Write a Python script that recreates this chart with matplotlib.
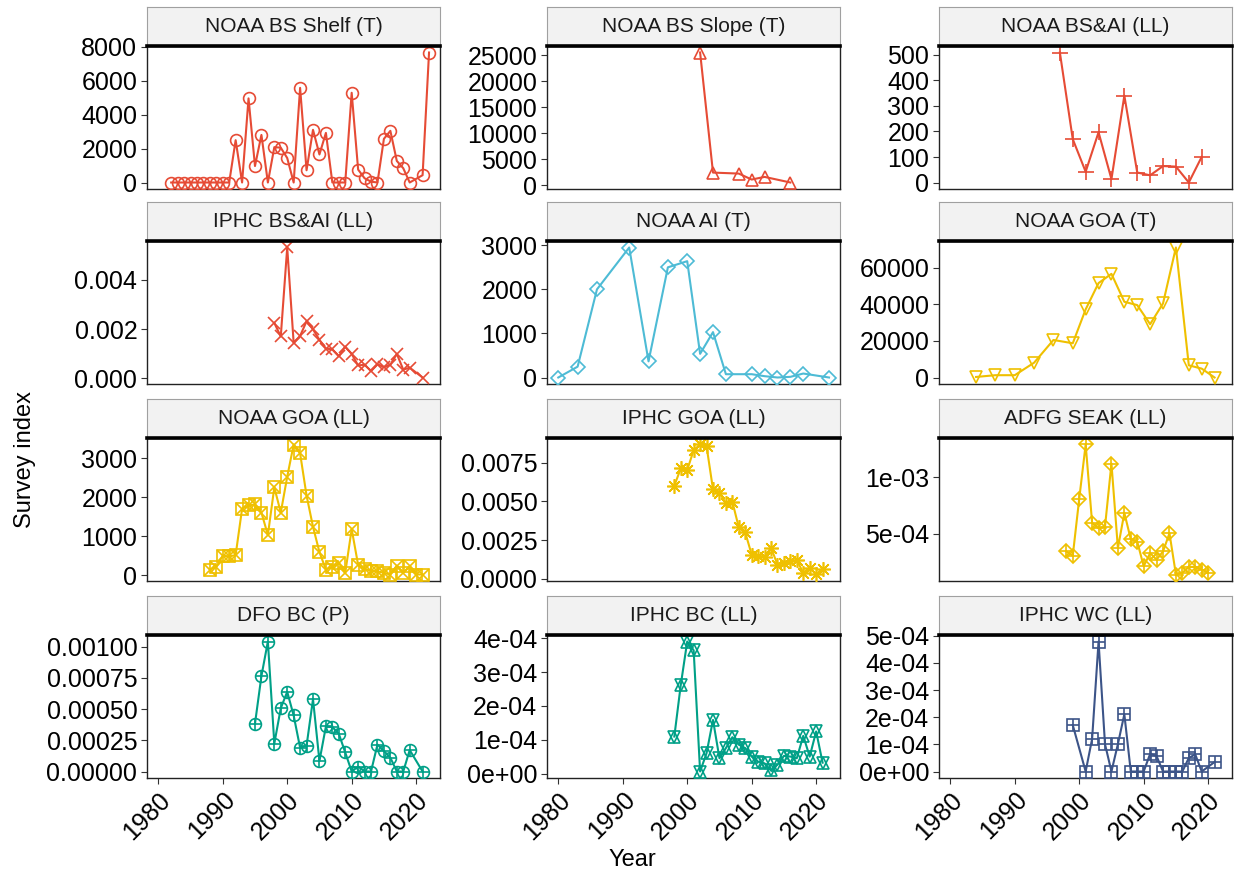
import matplotlib
matplotlib.use('Agg')
import matplotlib.pyplot as plt

plt.rcParams['font.family'] = ['Liberation Sans', 'DejaVu Sans']

# ---- data ----
shelf_yr = [1982, 1983, 1984, 1985, 1986, 1987, 1988, 1989, 1990, 1991,
            1992, 1993, 1994, 1995, 1996, 1997, 1998, 1999, 2000, 2001,
            2002, 2003, 2004, 2005, 2006, 2007, 2008, 2009, 2010, 2011,
            2012, 2013, 2014, 2015, 2016, 2017, 2018, 2019, 2021, 2022]
shelf_val = [0, 0, 0, 0, 0, 0, 0, 0, 0, 0,
             2490, 0, 4950, 970, 2800, 0, 2080, 2050, 1440, 0,
             5570, 720, 3100, 1650, 2920, 0, 0, 0, 5280, 760,
             250, 50, 0, 2570, 3040, 1270, 840, 0, 430, 7650]

slope_yr = [2002, 2004, 2008, 2010, 2012, 2016]
slope_val = [25570, 2420, 2230, 1080, 1590, 510]

bsai_ll_yr = [1997, 1999, 2001, 2003, 2005, 2007, 2009, 2011, 2013, 2015, 2017, 2019]
bsai_ll_val = [508, 170, 43, 197, 14, 340, 40, 29, 65, 63, 1, 101]

iphc_bsai_yr = [1998, 1999, 2000, 2001, 2002, 2003, 2004, 2005, 2006, 2007, 2008,
                2009, 2010, 2011, 2012, 2013, 2014, 2015, 2016, 2017, 2018, 2019, 2021]
iphc_bsai_val = [0.00225, 0.00170, 0.00532, 0.00144, 0.00172, 0.00232, 0.00199, 0.00156,
                 0.00121, 0.00117, 0.00089, 0.00129, 0.00099, 0.00052, 0.00055, 0.00029,
                 0.00057, 0.00045, 0.00055, 0.00099, 0.00035, 0.00043, 0.00003]

ai_yr = [1980, 1983, 1986, 1991, 1994, 1997, 2000, 2002, 2004, 2006, 2010, 2012,
         2014, 2016, 2018, 2022]
ai_val = [0, 246, 2000, 2950, 366, 2500, 2640, 537, 1030, 75, 75, 30, 0, 15, 90, 0]

goa_t_yr = [1984, 1987, 1990, 1993, 1996, 1999, 2001, 2003, 2005, 2007, 2009, 2011,
            2013, 2015, 2017, 2019, 2021]
goa_t_val = [300, 1260, 1260, 8100, 20540, 18740, 37300, 51700, 56750, 41440, 39640,
             29190, 40540, 71170, 6670, 4860, 0]

goa_ll_yr = [1988, 1989, 1990, 1991, 1992, 1993, 1994, 1995, 1996, 1997, 1998, 1999,
             2000, 2001, 2002, 2003, 2004, 2005, 2006, 2007, 2008, 2009, 2010, 2011,
             2012, 2013, 2014, 2015, 2016, 2017, 2018, 2019, 2020, 2021]
goa_ll_val = [144, 211, 499, 482, 516, 1707, 1792, 1817, 1606, 1031, 2257, 1606,
              2527, 3356, 3128, 2046, 1243, 592, 144, 211, 313, 59, 1183, 262,
              161, 110, 101, 59, 17, 245, 59, 228, 17, 17]

iphc_goa_yr = [1998, 1999, 2000, 2001, 2002, 2003, 2004, 2005, 2006, 2007, 2008, 2009,
               2010, 2011, 2012, 2013, 2014, 2015, 2016, 2017, 2018, 2019, 2020, 2021]
iphc_goa_val = [0.00602, 0.00713, 0.00703, 0.00831, 0.00868, 0.00857, 0.00578, 0.00557,
                0.00488, 0.00499, 0.00332, 0.00300, 0.00156, 0.00150, 0.00141, 0.00201,
                0.00092, 0.00103, 0.00114, 0.00120, 0.00039, 0.00071, 0.00028, 0.00064]

seak_yr = [1998, 1999, 2000, 2001, 2002, 2003, 2004, 2005, 2006, 2007, 2008, 2009,
           2010, 2011, 2012, 2013, 2014, 2015, 2016, 2017, 2018, 2019, 2020]
seak_val = [3.46e-4, 3.08e-4, 8.10e-4, 1.29e-3, 5.99e-4, 5.50e-4, 5.64e-4, 1.122e-3,
            3.75e-4, 6.86e-4, 4.53e-4, 4.33e-4, 2.15e-4, 3.31e-4, 2.73e-4, 3.46e-4,
            5.06e-4, 1.42e-4, 1.57e-4, 2.09e-4, 2.09e-4, 1.86e-4, 1.57e-4]

dfo_yr = [1995, 1996, 1997, 1998, 1999, 2000, 2001, 2002, 2003, 2004, 2005, 2006,
          2007, 2008, 2009, 2010, 2011, 2012, 2013, 2014, 2015, 2016, 2017, 2018,
          2019, 2021]
dfo_val = [3.83e-4, 7.65e-4, 1.042e-3, 2.24e-4, 5.07e-4, 6.39e-4, 4.49e-4, 1.90e-4,
           2.06e-4, 5.80e-4, 8.4e-5, 3.61e-4, 3.56e-4, 3.03e-4, 1.53e-4, 0, 4.0e-5,
           0, 0, 2.16e-4, 1.64e-4, 1.11e-4, 0, 0, 1.72e-4, 0]

iphc_bc_yr = [1998, 1999, 2000, 2001, 2002, 2003, 2004, 2005, 2006, 2007, 2008, 2009,
              2010, 2011, 2012, 2013, 2014, 2015, 2016, 2017, 2018, 2019, 2020, 2021]
iphc_bc_val = [1.10e-4, 2.62e-4, 3.90e-4, 3.64e-4, 0.7e-5, 6.1e-5, 1.59e-4, 4.6e-5,
               7.6e-5, 1.08e-4, 8.6e-5, 7.6e-5, 5.1e-5, 3.6e-5, 3.1e-5, 1.0e-5,
               2.7e-5, 5.3e-5, 5.1e-5, 4.6e-5, 1.12e-4, 5.1e-5, 1.25e-4, 3.3e-5]

iphc_wc_yr = [1999, 2001, 2002, 2003, 2004, 2005, 2006, 2007, 2008, 2009, 2010, 2011,
              2012, 2013, 2014, 2015, 2016, 2017, 2018, 2019, 2021]
iphc_wc_val = [1.71e-4, 0, 1.20e-4, 4.79e-4, 1.01e-4, 0, 1.01e-4, 2.11e-4, 0, 0, 0,
               6.5e-5, 5.7e-5, 0, 0, 0, 0, 5.0e-5, 6.3e-5, 0, 3.5e-5]

titles = ['NOAA BS Shelf (T)', 'NOAA BS Slope (T)', 'NOAA BS&AI (LL)',
          'IPHC BS&AI (LL)', 'NOAA AI (T)', 'NOAA GOA (T)',
          'NOAA GOA (LL)', 'IPHC GOA (LL)', 'ADFG SEAK (LL)',
          'DFO BC (P)', 'IPHC BC (LL)', 'IPHC WC (LL)']
years = [shelf_yr, slope_yr, bsai_ll_yr, iphc_bsai_yr, ai_yr, goa_t_yr,
         goa_ll_yr, iphc_goa_yr, seak_yr, dfo_yr, iphc_bc_yr, iphc_wc_yr]
values = [shelf_val, slope_val, bsai_ll_val, iphc_bsai_val, ai_val, goa_t_val,
          goa_ll_val, iphc_goa_val, seak_val, dfo_val, iphc_bc_val, iphc_wc_val]

yticks = [[0, 2000, 4000, 6000, 8000],
          [0, 5000, 10000, 15000, 20000, 25000],
          [0, 100, 200, 300, 400, 500],
          [0, 0.002, 0.004],
          [0, 1000, 2000, 3000],
          [0, 20000, 40000, 60000],
          [0, 1000, 2000, 3000],
          [0, 0.0025, 0.005, 0.0075],
          [5e-4, 1e-3],
          [0, 0.00025, 0.0005, 0.00075, 0.001],
          [0, 1e-4, 2e-4, 3e-4, 4e-4],
          [0, 1e-4, 2e-4, 3e-4, 4e-4, 5e-4]]
ylabels = [['0', '2000', '4000', '6000', '8000'],
           ['0', '5000', '10000', '15000', '20000', '25000'],
           ['0', '100', '200', '300', '400', '500'],
           ['0.000', '0.002', '0.004'],
           ['0', '1000', '2000', '3000'],
           ['0', '20000', '40000', '60000'],
           ['0', '1000', '2000', '3000'],
           ['0.0000', '0.0025', '0.0050', '0.0075'],
           ['5e-04', '1e-03'],
           ['0.00000', '0.00025', '0.00050', '0.00075', '0.00100'],
           ['0e+00', '1e-04', '2e-04', '3e-04', '4e-04'],
           ['0e+00', '1e-04', '2e-04', '3e-04', '4e-04', '5e-04']]
xticks = [1980, 1990, 2000, 2010, 2020]

# ---- styling ----
RED, CYAN, GOLD, TEAL, NAVY = '#E64B35', '#4DBBD5', '#EFC000', '#00A087', '#3C5488'
colors = [RED, RED, RED, RED, CYAN, GOLD, GOLD, GOLD, GOLD, TEAL, TEAL, NAVY]
# each marker is a list of overlaid (marker, size) pieces, mimicking ggplot shapes 1..12
shapes = [[('o', 8.5)], [('^', 8.5)], [('+', 11)], [('x', 8.5)], [('D', 7.5)], [('v', 9)],
          [('s', 8), ('x', 8)], [((8, 2, 0), 10.5)], [('D', 7.5), ('+', 10.6)],
          [('o', 8.5), ('+', 8.5)], [('^', 8.5), ('v', 8.5)], [('s', 8), ('+', 8)]]

W, H = 1238, 877
fig = plt.figure(figsize=(W / 100, H / 100), dpi=100)

col_l = [147, 547, 939]
col_w = 293
row_top = [46, 241, 438, 635]
row_h = 143
strip_h = 39
xlim = (1978.25, 2023.7)

for i in range(12):
    r, c = divmod(i, 3)
    left = col_l[c] / W
    bottom = 1 - (row_top[r] + row_h) / H
    ax = fig.add_axes([left, bottom, col_w / W, row_h / H])
    col = colors[i]
    ax.plot(years[i], values[i], '-', color=col, lw=1.5, zorder=2)
    for mk, ms in shapes[i]:
        ax.plot(years[i], values[i], ls='none', marker=mk, ms=ms, mfc='none',
                mec=col, mew=1.2, zorder=3)
    ax.set_xlim(xlim)
    ax.margins(y=0.05)
    ax.set_yticks(yticks[i])
    ax.set_yticklabels(ylabels[i])
    ax.set_xticks(xticks)
    ax.tick_params(axis='both', labelsize=18, color='#333333', length=4, width=0.8,
                   labelcolor='black', pad=3)
    if r < 3:
        ax.tick_params(axis='x', bottom=False, labelbottom=False)
    else:
        ax.set_xticklabels([str(x) for x in xticks], rotation=45, ha='right',
                           va='top', rotation_mode='anchor')
    for s in ax.spines.values():
        s.set_color('#222222')
        s.set_linewidth(1.0)

    sax = fig.add_axes([left, 1 - row_top[r] / H, col_w / W, strip_h / H])
    sax.set_facecolor('#F2F2F2')
    sax.set_xticks([])
    sax.set_yticks([])
    for s in sax.spines.values():
        s.set_color('#A0A0A0')
        s.set_linewidth(0.8)
    sax.spines['bottom'].set_color('black')
    sax.spines['bottom'].set_linewidth(2.6)
    sax.text(0.5, 0.5, titles[i], ha='center', va='center', fontsize=15,
             transform=sax.transAxes, color='#1A1A1A')

fig.text(25 / W, 1 - 460 / H, 'Survey index', rotation=90, ha='center', va='center',
         fontsize=17)
fig.text(632 / W, 1 - 860 / H, 'Year', ha='center', va='center', fontsize=17)

fig.savefig('out.png', dpi=100)
